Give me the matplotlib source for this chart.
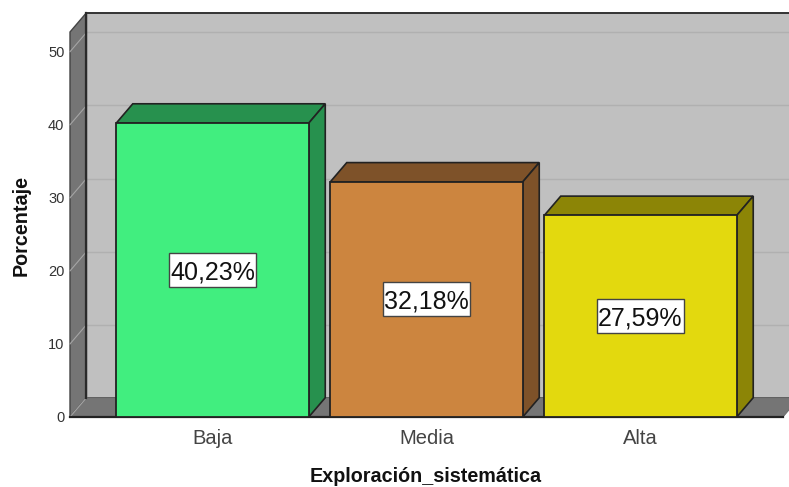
import matplotlib
matplotlib.use("Agg")
import matplotlib.pyplot as plt
from matplotlib.patches import Polygon, Rectangle

plt.rcParams['font.family'] = ['Liberation Sans', 'DejaVu Sans']

categories = ['Baja', 'Media', 'Alta']
values = [40.23, 32.18, 27.59]
labels = ['40,23%', '32,18%', '27,59%']
front_colors = ['#41EE7F', '#CC853F', '#E3D90E']
dark_colors = ['#27914E', '#7E5229', '#8C8506']
yticks = [0, 10, 20, 30, 40, 50]

W, H = 789, 487
fig = plt.figure(figsize=(W / 100, H / 100), dpi=100)
left, right, bottom, top = 70, 783, 417, 32
ax = fig.add_axes([left / W, 1 - bottom / H, (right - left) / W, (bottom - top) / H])
ax.set_xlim(-0.666, 2.666)
ax.set_ylim(0, 52.7)
ax.patch.set_alpha(0)
for s in ax.spines.values():
    s.set_visible(False)

px_x = 1 / 214
px_y = 1 / 7.3
dx = 16.5 * px_x
dy = 19.3 * px_y
ymax = 52.7
x0, x1 = -0.666, 2.666
edge = '#222222'
kw = dict(clip_on=False, joinstyle='miter')

# back wall, side wall, floor
ax.add_patch(Polygon([(x0 + dx, dy), (x1 + dx, dy), (x1 + dx, ymax + dy), (x0 + dx, ymax + dy)],
                     fc='#C0C0C0', ec='#333333', lw=1.4, zorder=1, **kw))
ax.add_patch(Polygon([(x0, 0), (x0 + dx, dy), (x0 + dx, ymax + dy), (x0, ymax)],
                     fc='#757575', ec='#444444', lw=1.0, zorder=2, **kw))
ax.add_patch(Polygon([(x0, 0), (x0 + dx, dy), (x1 + dx, dy), (x1, 0)],
                     fc='#757575', ec='#666666', lw=0.6, zorder=2, **kw))

# grid on the walls
for t in yticks:
    ax.plot([x0 + dx, x1 + dx], [t + dy, t + dy], color='#B0B0B0', lw=1.0, zorder=1.5, clip_on=False)
    ax.plot([x0, x0 + dx], [t, t + dy], color='#A5A5A5', lw=0.8, zorder=2.5, clip_on=False)
ax.plot([x0 + dx, x0 + dx], [dy, ymax + dy], color='#2A2A2A', lw=1.6, zorder=3, clip_on=False)
ax.plot([x0, x1], [0, 0], color='#222222', lw=1.6, zorder=3.5, clip_on=False)

# bars
w = 192.5 * px_x
for i, (v, fc, dc, lab) in enumerate(zip(values, front_colors, dark_colors, labels)):
    a, b = i - w / 2, i + w / 2
    z = 4 + i
    ax.add_patch(Polygon([(a, v), (b, v), (b + dx, v + dy), (a + dx, v + dy)],
                         fc=dc, ec=edge, lw=1.2, zorder=z, **kw))
    ax.add_patch(Polygon([(b, 0), (b + dx, dy), (b + dx, v + dy), (b, v)],
                         fc=dc, ec=edge, lw=1.2, zorder=z, **kw))
    ax.bar(i, v, width=w, color=fc, edgecolor=edge, linewidth=1.3, zorder=z + 0.1)
    bw, bh = 87 * px_x, 34 * px_y
    ax.add_patch(Rectangle((i - bw / 2, v / 2 - bh / 2), bw, bh, fc='white', ec='#444444', lw=1, zorder=9))
    ax.text(i, v / 2 - 9 * px_y, lab, ha='center', va='baseline', fontsize=18, color='#111111', zorder=10)

ax.set_xticks(range(3))
ax.set_xticklabels(categories, fontsize=14.5, color='#444444')
ax.set_yticks(yticks)
ax.set_yticklabels([str(t) for t in yticks], fontsize=10.5, color='#333333')
ax.tick_params(axis='both', length=0)
ax.tick_params(axis='x', pad=9)
ax.tick_params(axis='y', pad=4)
fig.text(426 / W, 1 - 476 / H, 'Exploración_sistemática', fontsize=14.2, fontweight='bold',
         ha='center', va='center', color='#111111')
fig.text(21 / W, 1 - 226 / H, 'Porcentaje', fontsize=14.2, fontweight='bold', rotation=90,
         ha='center', va='center', color='#111111')
fig.savefig('out.png', dpi=100)
